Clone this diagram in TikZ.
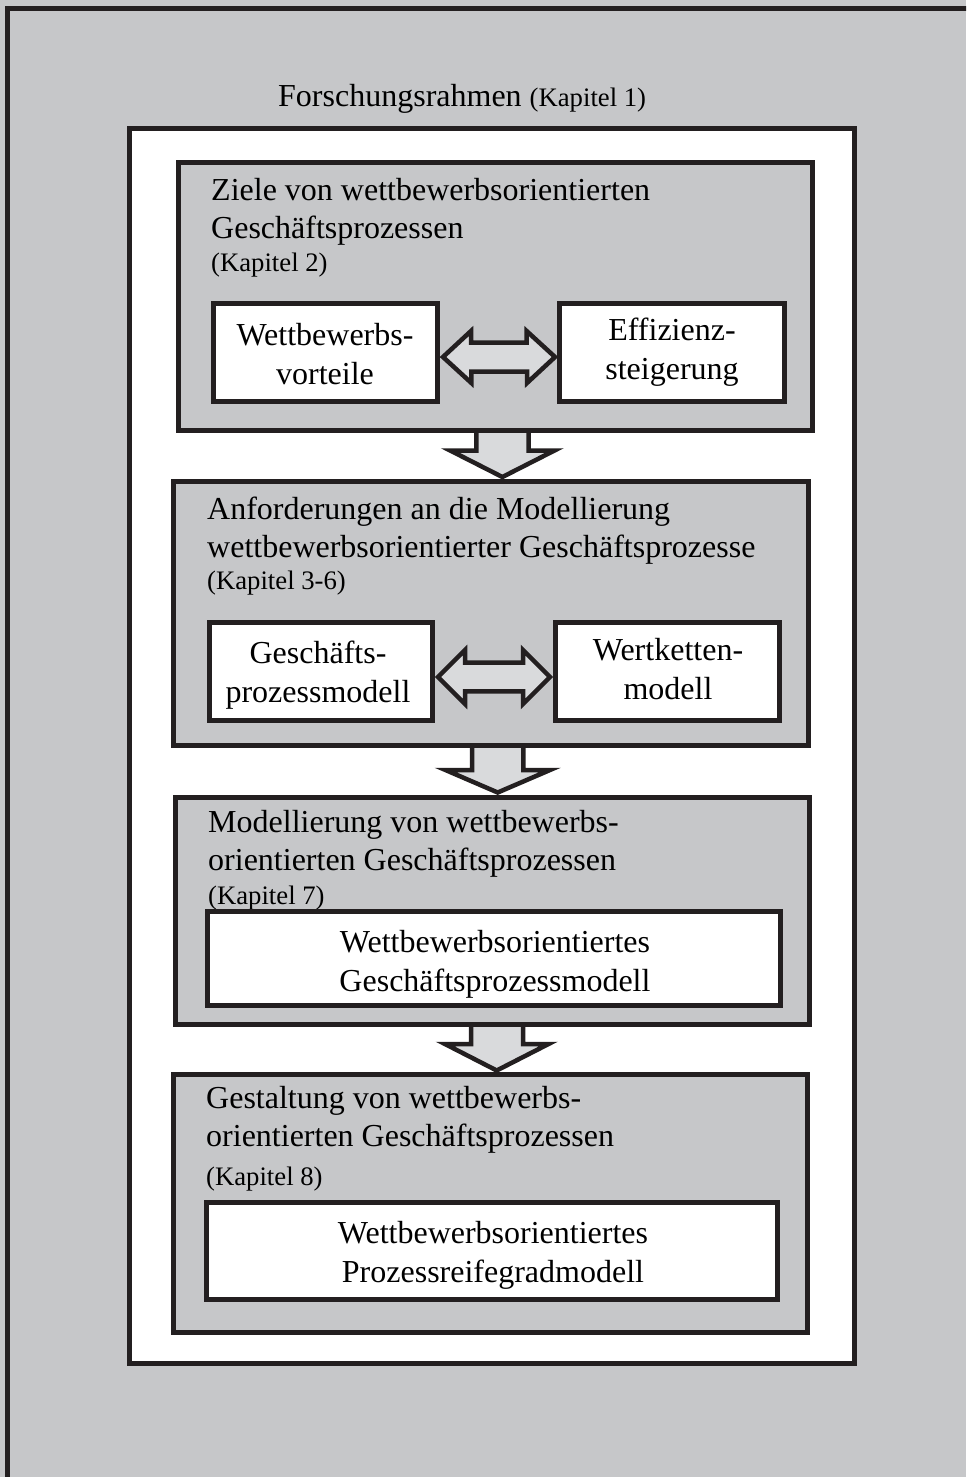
\documentclass[tikz,border=0pt]{standalone}
\usepackage{fontspec}
\setmainfont{Liberation Serif}
\usetikzlibrary{calc}
\definecolor{bg}{HTML}{C6C7C9}
\definecolor{ink}{HTML}{231F20}
\definecolor{arrowfill}{HTML}{D9DADC}
\tikzset{
  heading/.style={anchor=base west, inner sep=0pt, font=\fontsize{32}{38}\selectfont},
  chap/.style={anchor=base west, inner sep=0pt, font=\fontsize{26.7}{32}\selectfont},
  graybox/.style={draw=ink, line width=5pt, fill=bg, inner sep=0pt, outer sep=0pt},
  whitebox/.style={draw=ink, line width=5pt, fill=white, inner sep=0pt, outer sep=0pt},
  boxtext/.style={inner sep=0pt, align=center, font=\fontsize{32}{39}\selectfont},
  blockarrow/.style={draw=ink, fill=arrowfill, line width=4.5pt, line join=miter},
}
\begin{document}
\begin{tikzpicture}[x=1pt,y=-1pt]
\useasboundingbox (0,0) rectangle (966,1477);
\clip (0,0) rectangle (966,1477);
\fill[bg] (0,0) rectangle (966,1477);
% outer frame (continues beyond the right and bottom edges)
\draw[ink, line width=5pt] (7.5,1500) -- (7.5,8.5) -- (990,8.5);

% title
\node[anchor=base west, inner sep=0pt] (title) at (278,107)
  {{\fontsize{32}{38}\selectfont Forschungsrahmen\ }{\fontsize{26.7}{32}\selectfont (Kapitel 1)}};

% white research frame
\node[draw=ink, line width=5pt, fill=white, inner sep=0pt, outer sep=0pt,
      minimum width=725pt, minimum height=1234pt] (frame) at (491.5,746) {};

% down block arrows (drawn before the boxes)
\filldraw[blockarrow] (476.3,428) -- (476.3,450.5) -- (450.2,450.5) -- (502.4,477) -- (554.5,450.5) -- (528.5,450.5) -- (528.5,428);
\filldraw[blockarrow] (472,745) -- (472,770) -- (445.5,770) -- (497.7,792.5) -- (550,770) -- (523.3,770) -- (523.3,745);
\filldraw[blockarrow] (471,1024) -- (471,1044) -- (445,1044) -- (496.7,1070.5) -- (548.5,1044) -- (523,1044) -- (523,1024);

% gray chapter boxes
\node[graybox, minimum width=634pt, minimum height=268pt] (b1) at (495,296) {};
\node[graybox, minimum width=635pt, minimum height=264pt] (b2) at (490.5,613) {};
\node[graybox, minimum width=634pt, minimum height=227pt] (b3) at (492,910.5) {};
\node[graybox, minimum width=634pt, minimum height=258pt] (b4) at (490,1203) {};

% box 1 texts
\node[heading] (t1a) at (211,200) {Ziele von wettbewerbsorientierten};
\node[heading] (t1b) at (211,238) {Geschäftsprozessen};
\node[chap] (t1c) at (211,271) {(Kapitel 2)};
% box 2 texts
\node[heading] (t2a) at (207,519) {Anforderungen an die Modellierung};
\node[heading] (t2b) at (207,557) {wettbewerbsorientierter Geschäftsprozesse};
\node[chap] (t2c) at (207,589) {(Kapitel 3-6)};
% box 3 texts
\node[heading] (t3a) at (208,832) {Modellierung von wettbewerbs-};
\node[heading] (t3b) at (208,870) {orientierten Geschäftsprozessen};
\node[chap] (t3c) at (208,904) {(Kapitel 7)};
% box 4 texts
\node[heading] (t4a) at (206,1108) {Gestaltung von wettbewerbs-};
\node[heading] (t4b) at (206,1146) {orientierten Geschäftsprozessen};
\node[chap] (t4c) at (206,1185) {(Kapitel 8)};

% white content boxes
\node[whitebox, minimum width=224pt, minimum height=98pt] (wv) at (325,352) {};
\node[whitebox, minimum width=225pt, minimum height=98pt] (es) at (671.5,352) {};
\node[whitebox, minimum width=223pt, minimum height=98pt] (gp) at (320.5,671) {};
\node[whitebox, minimum width=224pt, minimum height=98pt] (wm) at (667,671) {};
\node[whitebox, minimum width=573pt, minimum height=94pt] (wg) at (493.5,958) {};
\node[whitebox, minimum width=571pt, minimum height=97pt] (wp) at (491.5,1250.5) {};

\node[boxtext] (wvt) at (325,354) {Wettbewerbs-\\vorteile};
\node[boxtext] (est) at (672,352) {Effizienz-\\steigerung};
\node[boxtext] (gpt) at (318,675.5) {Geschäfts-\\prozessmodell};
\node[boxtext] (wmt) at (668,669.5) {Wertketten-\\modell};
\node[boxtext] (wgt) at (495,964) {Wettbewerbsorientiertes\\Geschäftsprozessmodell};
\node[boxtext] (wpt) at (493,1255.5) {Wettbewerbsorientiertes\\Prozessreifegradmodell};

% double block arrows
\filldraw[blockarrow] ([xshift=6pt,yshift=-5pt]wv.east) -- ++(28,-26) -- ++(0,11.5) -- ++(55.6,0) -- ++(0,-11.5)
  -- ([xshift=-4pt,yshift=-5pt]es.west) -- ++(-28,26) -- ++(0,-11.5) -- ++(-55.6,0) -- ++(0,11.5) -- cycle;
\filldraw[blockarrow] ([xshift=6pt,yshift=-6pt]gp.east) -- ++(27,-27) -- ++(0,12.7) -- ++(58,0) -- ++(0,-12.7)
  -- ([xshift=-5pt,yshift=-6pt]wm.west) -- ++(-27,27) -- ++(0,-12.7) -- ++(-58,0) -- ++(0,12.7) -- cycle;
\end{tikzpicture}
\end{document}
